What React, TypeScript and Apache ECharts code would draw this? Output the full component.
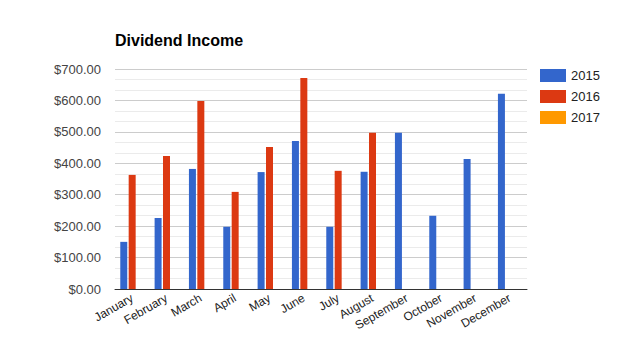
import React, { useEffect, useRef } from "react";
import * as echarts from "echarts";

const months = ["January", "February", "March", "April", "May", "June", "July", "August", "September", "October", "November", "December"];
const income2015 = [150, 226, 382, 198, 372, 471, 198, 373, 497, 233, 414, 621];
const income2016 = [363, 423, 598, 309, 452, 671, 376, 497, null, null, null, null];
const income2017: (number | null)[] = [null, null, null, null, null, null, null, null, null, null, null, null];
const seriesNames = ["2015", "2016", "2017"];
const colors = ["#3366cc", "#dc3912", "#ff9900"];

export default function App() {
  const ref = useRef<HTMLDivElement>(null);
  useEffect(() => {
    if (!ref.current) return;
    const chart = echarts.init(ref.current, null, { renderer: "svg" });
    const font = "Arial, 'Liberation Sans', sans-serif";
    const datasets = [income2015, income2016, income2017];
    chart.setOption({
      animation: false,
      color: colors,
      textStyle: { fontFamily: font },
      title: {
        text: "Dividend Income",
        left: 110,
        top: 27,
        textStyle: { fontSize: 16, fontWeight: "bold", color: "#000", fontFamily: font },
      },
      legend: {
        orient: "vertical",
        left: 535,
        top: 64,
        itemWidth: 26,
        itemHeight: 13,
        itemGap: 8,
        icon: "rect",
        textStyle: { fontSize: 13, color: "#222", fontFamily: font },
        data: seriesNames,
      },
      grid: { left: 115, right: 114, top: 69, bottom: 69, containLabel: false },
      xAxis: {
        type: "category",
        data: months,
        axisLine: { lineStyle: { color: "#333", width: 1 } },
        axisTick: { show: false },
        axisLabel: { rotate: 30, fontSize: 12, color: "#222", margin: 8, interval: 0, fontFamily: font },
      },
      yAxis: {
        type: "value",
        min: 0,
        max: 700,
        interval: 100,
        axisLine: { show: false },
        axisTick: { show: false },
        axisLabel: {
          fontSize: 13,
          color: "#444",
          margin: 14,
          fontFamily: font,
          formatter: (v: number) => "$" + v.toFixed(2),
        },
        splitLine: { lineStyle: { color: "#cccccc", width: 1 } },
        minorTick: { show: false, splitNumber: 3 },
        minorSplitLine: { show: true, lineStyle: { color: "#ebebeb", width: 1 } },
      },
      series: seriesNames.map((name, i) => ({
        name,
        type: "bar",
        data: datasets[i],
        barWidth: 7,
        barGap: "20%",
        itemStyle: { color: colors[i] },
      })),
    });
    return () => chart.dispose();
  }, []);
  return <div ref={ref} style={{ width: 641, height: 358, position: "absolute", left: 0, top: 0, background: "#fff" }} />;
}
